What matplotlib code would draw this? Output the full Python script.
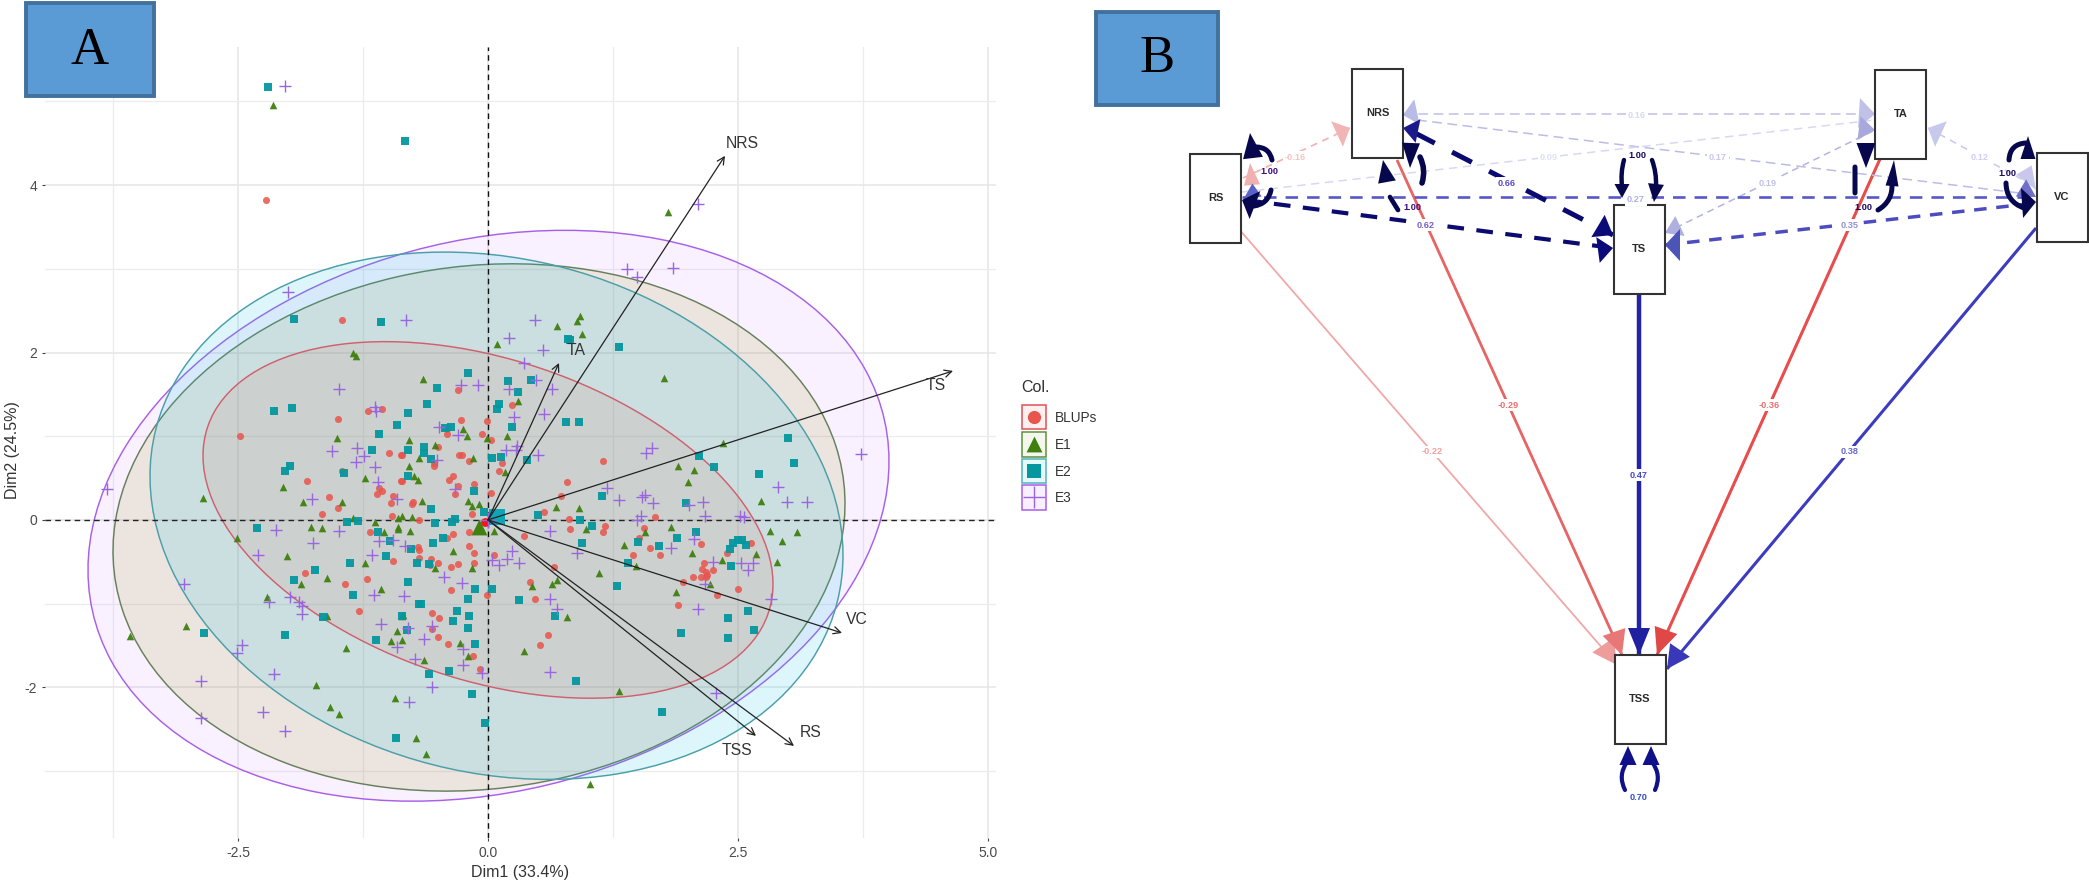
import numpy as np
import matplotlib
matplotlib.use('Agg')
import matplotlib.pyplot as plt
from matplotlib.patches import Ellipse, Rectangle, FancyArrowPatch

plt.rcParams['font.family'] = ['Liberation Sans', 'DejaVu Sans']
plt.rcParams['lines.scale_dashes'] = False

W, H = 2089, 883

# Panel A: individuals
blups_xy = [(-.30,1.55),(.24,1.37),(-.27,1.19),(-.01,1.18),(-.41,1.09),(-.41,1.03),(-.06,1.03),(.03,.95),(-.50,.87),
    (-.86,.78),(-.29,.78),(-.26,.78),(-.19,.70),(-.54,.68),(-.54,.64),(.14,.68),(.11,.59),(1.15,.70),(-.35,.53),(-.39,.48),
    (-.86,.46),(-.14,.43),(-.30,.41),(.79,.45),(-.33,.31),(.03,.32),(.73,.28),(-.75,.22),(-.76,.19),(-.16,.07),(.56,.10),
    (-.69,0),(.81,.01),(1.67,.03),(-.35,-.17),(-.41,-.21),(-.19,-.14),(.82,-.11),(1.17,-.07),(1.15,-.15),(.36,-.19),
    (1.56,-.10),(1.51,-.21),(2.13,-.29),(1.62,-.34),(1.45,-.42),(1.72,-.42),(-.70,-.32),(-.69,-.36),(-.19,-.31),(-.14,-.39),
    (.06,-.42),(-.69,-.46),(-.57,-.47),(-.14,-.52),(-.50,-.51),(-.58,-.54),(-.37,-.56),(-.30,-.53),(.66,-.56),(2.16,-.52),
    (2.14,-.59),(2.25,-.60),(2.18,-.62),(2.05,-.68),(2.13,-.68),(2.18,-.68),(2.19,-.66),(1.95,-.74),(.42,-.74),(2.50,-.82),
    (-.37,-.84),(-.01,-.90),(2.29,-.90),(.47,-.95),(1.90,-1.02),(-.56,-1.11),(-.49,-1.17),(-.56,-1.30),(-.50,-1.40),(.60,-1.38),
    (-.40,-1.48),(.52,-1.49),(-.15,-1.63),(2.63,-.27),(2.39,-.40),(-2.48,1.0),(-1.50,1.21),(-1.20,1.30),(-1.06,1.32),(-.99,.80),
    (-.87,.78),(-1.46,.59),(-1.81,.46),(-.87,.46),(-1.09,.38),(-1.06,.35),(-1.11,.31),(-.95,.29),(-.97,.20),(-1.59,.27),
    (-1.50,.14),(-1.66,.07),(-.96,.05),(-1.18,-.15),(-.95,-.49),(-1.83,-.64),(-1.43,-.77),(-1.21,-.70),(-1.29,-1.09),
    (-1.46,2.39),(-.08,-1.78),(-2.22,3.82)]

e1_xy = [(-.65,1.68),(.09,2.10),(1.76,1.70),(.30,1.42),(-.25,1.09),(-.21,1.00),(-.79,.96),(-.53,.89),(.19,1.00),(-.01,.98),
    (-.69,.74),(-.15,.74),(-.79,.64),(.17,.57),(-.74,.52),(-.70,.48),(2.35,.92),(1.90,.64),(2.06,.60),(2.00,.45),(-.66,.23),
    (-.20,.23),(-.16,.17),(-.09,.19),(.68,.15),(.91,.14),(-.86,.05),(-.76,.03),(-.78,-.13),(.06,-.13),(.98,-.11),(1.83,-.09),
    (1.57,-.15),(1.36,-.30),(-.35,-.37),(2.04,-.39),(2.68,-.41),(2.34,-.48),(1.48,-.55),(-.53,-.57),(-.16,-.58),(1.11,-.64),
    (.69,-.72),(.64,-.76),(.44,-.79),(2.22,-.77),(1.88,-.86),(.79,-1.16),(-.86,-1.15),(-.86,-1.44),(-.28,-1.47),(-.20,-1.62),
    (.36,-1.56),(1.80,3.68),(.92,2.44),(.89,2.38),(.69,2.32),(.94,2.22),(-2.15,4.96),(-1.35,1.99),(-1.32,1.96),(-1.51,.98),
    (-1.23,.50),(-2.05,.39),(-1.85,.22),(-1.46,.21),(-2.85,.26),(-1.35,.02),(-1.13,-.02),(-.90,.02),(-1.77,-.09),(-1.66,-.10),
    (-1.04,-.14),(-.90,-.08),(-.90,-.11),(-2.51,-.22),(-2.01,-.43),(-1.23,-.51),(-1.61,-.69),(-1.87,-.76),(-1.07,-.82),
    (-2.21,-.92),(-1.61,-1.15),(-.85,-1.13),(-.91,-1.33),(-.97,-1.45),(-1.42,-1.53),(-3.02,-1.27),(-3.58,-1.39),(-1.72,-1.97),
    (-1.58,-2.23),(-1.49,-2.32),(-.93,-2.13),(-.72,-2.61),(-.62,-2.80),(-.64,-1.67),(1.31,-2.04),(1.02,-3.16),(2.73,.23),
    (2.82,-.13),(3.09,-.14),(2.94,-.25),(2.89,-.50)]

e2_xy = [(-.20,1.76),(-.51,1.58),(.20,1.66),(.43,1.67),(.30,1.53),(-.61,1.38),(.11,1.38),(.09,1.33),(-.80,1.28),(.24,1.11),
    (.78,1.17),(.91,1.17),(-.43,1.10),(-.37,1.11),(-.64,.87),(-.64,.80),(-.80,.84),(-.57,.73),(.04,.74),(.13,.75),(.39,.71),
    (2.11,.76),(2.26,.63),(-.80,.53),(-.14,.35),(1.14,.29),(1.98,.20),(-.57,.13),(.50,.06),(-.04,.09),(-.33,.01),(-.36,-.03),
    (-.53,-.04),(.92,0),(1.04,-.07),(2.08,-.14),(-.45,-.21),(-.55,-.27),(.94,-.27),(1.89,-.21),(-.77,-.35),(1.50,-.26),
    (1.71,-.31),(2.45,-.28),(2.50,-.24),(2.54,-.24),(2.58,-.30),(2.42,-.35),(2.43,-.55),(-.71,-.52),(-.59,-.53),(1.40,-.51),
    (-.80,-.74),(1.29,-.79),(-.13,-.82),(.04,-.82),(-.20,-.95),(.31,-.96),(-.67,-1.01),(-.31,-1.09),(-.19,-1.15),(.67,-1.15),
    (-.35,-1.21),(-.20,-1.29),(-.81,-1.31),(2.40,-1.17),(2.60,-1.09),(2.66,-1.31),(1.93,-1.35),(2.40,-1.41),(-.13,-1.48),
    (-.83,4.53),(.80,2.16),(.82,2.15),(1.31,2.07),(-2.20,5.17),(-1.94,2.40),(-1.07,2.36),(-2.14,1.30),(-1.96,1.34),(-.91,1.13),
    (-1.09,1.03),(-1.16,.84),(-1.98,.64),(-2.03,.59),(-1.44,.56),(-1.41,-.03),(-1.30,-.01),(-2.31,-.10),(-1.10,-.14),(-.98,-.25),
    (-1.02,-.43),(-1.38,-.51),(-1.73,-.60),(-1.94,-.72),(-1.35,-.90),(-.69,-1.01),(-1.65,-1.16),(-.86,-1.15),(-1.12,-1.43),
    (-2.84,-1.35),(-2.03,-1.37),(-.92,-2.61),(-.59,-1.84),(-.39,-1.80),(-.16,-2.08),(-.03,-2.43),(.88,-1.92),(1.74,-2.29),
    (3.00,.98),(3.06,.68),(2.71,.55)]

e3_xy = [(-.27,1.61),(-.10,1.61),(.21,1.57),(.48,1.67),(.64,1.57),(.36,1.88),(.26,1.23),(.56,1.27),(.55,2.03),(-.49,1.11),
    (-.30,1.01),(.29,.88),(.18,.84),(.28,.84),(.50,.78),(-.51,.72),(1.64,.86),(1.58,.80),(1.19,.38),(-.33,.37),(1.57,.30),
    (1.54,.27),(1.31,.24),(1.65,.20),(2.01,.18),(2.15,.21),(2.17,.05),(1.53,.05),(1.49,0),(2.52,.05),(2.56,.03),(.62,-.13),
    (2.06,-.23),(1.83,-.34),(.89,-.39),(-.83,-.31),(.24,-.37),(.19,-.47),(.04,-.48),(.11,-.54),(.31,-.51),(2.25,-.50),(2.53,-.52),
    (2.65,-.52),(2.60,-.60),(-.44,-.68),(-.26,-.75),(2.17,-.76),(-.84,-.91),(.62,-.95),(.69,-1.07),(2.10,-1.07),(-.56,-1.27),
    (-.80,-1.29),(-.64,-1.42),(-.25,-1.54),(-.73,-1.66),(2.10,3.78),(1.39,3.0),(1.49,2.90),(1.85,3.01),(.47,2.39),(.21,2.17),
    (-.82,2.39),(-2.03,5.18),(-2.00,2.72),(-1.49,1.56),(-1.13,1.35),(-1.12,1.30),(-1.56,.82),(-1.31,.86),(-1.24,.76),(-1.32,.69),
    (-1.13,.63),(-1.10,.45),(-1.76,.25),(-.91,.25),(-3.81,.37),(-2.12,-.12),(-1.49,-.13),(-1.75,-.28),(-1.09,-.25),(-.95,-.24),
    (-2.30,-.42),(-1.16,-.42),(-3.04,-.77),(-1.14,-.90),(-1.98,-.92),(-2.19,-.98),(-1.89,-.98),(-1.86,-1.03),(-1.86,-1.12),
    (-1.07,-1.24),(-2.46,-1.49),(-2.51,-1.59),(-.91,-1.52),(-2.87,-1.93),(-2.87,-2.37),(-2.14,-1.84),(-2.25,-2.29),(-2.03,-2.52),
    (-.79,-2.17),(-.56,-2.00),(.62,-1.82),(-.06,-1.83),(-.25,-1.73),(2.28,-2.07),(3.73,.79),(2.90,.39),(2.99,.21),(3.19,.22),
    (2.83,-.95)]

groups = ['BLUPs', 'E1', 'E2', 'E3']
group_means = [(-.03, -.02), (-.09, -.09), (.09, .03), (.0, .0)]

# ellipse centre x, centre y, half range x, half range y, correlation
ell_e3 = (.005, .05, 4.005, 3.41, .19)
ell_e1 = (-.09, -.09, 3.66, 3.15, .09)
ell_e2 = (.085, .05, 3.465, 3.15, -.15)
ell_blups = (0, 0, 2.85, 2.13, -.36)

# variable arrows
var_names = ['NRS', 'TA', 'TS', 'VC', 'RS', 'TSS']
var_x = [2.37, .71, 4.65, 3.54, 3.06, 2.68]
var_y = [4.35, 1.875, 1.78, -1.35, -2.70, -2.58]
var_lab_x = [2.54, .88, 4.48, 3.69, 3.23, 2.49]
var_lab_y = [4.50, 2.02, 1.60, -1.19, -2.54, -2.76]

# Panel B: path coefficients
node_names = ['RS', 'NRS', 'TA', 'TS', 'VC', 'TSS']
edge_labels = ['-0.22', '-0.29', '-0.36', '0.38', '0.47', '-0.16', '0.16', '0.17', '0.09',
               '0.19', '0.27', '0.35', '0.12', '0.62', '0.66']
loop_labels = ['1.00', '1.00', '1.00', '1.00', '1.00', '0.70']

col_red, col_green, col_teal, col_purple = '#e8554c', '#3f8010', '#05979f', '#9a66e0'


def ellipse_patch(par, face, alpha, edge):
    cx, cy, sx, sy, r = par
    cov = np.array([[sx**2, r*sx*sy], [r*sx*sy, sy**2]])
    vals, vecs = np.linalg.eigh(cov)
    ang = np.degrees(np.arctan2(vecs[1, 1], vecs[0, 1]))
    fc = matplotlib.colors.to_rgba(face, alpha)
    return Ellipse((cx, cy), 2*np.sqrt(vals[1]), 2*np.sqrt(vals[0]), angle=ang, facecolor=fc, edgecolor=edge, lw=1.05)


fig = plt.figure(figsize=(W/100, H/100), dpi=100)

# ---- panel A ----
ax = fig.add_axes([45/W, 1-838/H, 951/W, 791/H])
ax.set_xlim(-4.43, 5.08)
ax.set_ylim(-3.80, 5.65)
for s in ax.spines.values():
    s.set_visible(False)
ax.set_xticks([-2.5, 0, 2.5, 5])
ax.set_xticklabels(['-2.5', '0.0', '2.5', '5.0'])
ax.set_yticks([-2, 0, 2, 4])
ax.set_yticklabels(['-2', '0', '2', '4'])
ax.set_xticks([-3.75, -1.25, 1.25, 3.75], minor=True)
ax.set_yticks([-3, -1, 1, 3, 5], minor=True)
ax.grid(True, which='major', color='#e6e6e6', lw=1.1)
ax.grid(True, which='minor', color='#ececec', lw=.9)
ax.set_axisbelow(True)
ax.tick_params(which='minor', length=0)
ax.tick_params(which='major', length=2.5, width=.8, color='#444444', labelcolor='#4a4a4a', labelsize=10, pad=3)
ax.set_xlabel('Dim1 (33.4%)', fontsize=11.5, color='#333333')
ax.xaxis.set_label_coords(.5, -.034)
ax.set_ylabel('Dim2 (24.5%)', fontsize=11.5, color='#333333')
ax.yaxis.set_label_coords(-.026, .49)

ax.add_patch(ellipse_patch(ell_e3, '#c77cff', .1, '#a860e8'))
ax.add_patch(ellipse_patch(ell_e1, '#958e09', .13, '#66805a'))
ax.add_patch(ellipse_patch(ell_e2, '#17c4e6', .15, '#4a9fa8'))
ax.add_patch(ellipse_patch(ell_blups, '#d46b5a', .12, '#d0606e'))

ax.axhline(0, color='#222222', lw=1, ls=(0, (4, 3)), zorder=2.5)
ax.axvline(0, color='#111111', lw=1, ls=(0, (4, 3)), zorder=2.5)

bx, by = np.array(blups_xy).T
e1x, e1y = np.array(e1_xy).T
e2x, e2y = np.array(e2_xy).T
e3x, e3y = np.array(e3_xy).T
ax.scatter(bx, by, s=26, c=col_red, marker='o', linewidths=0, alpha=.85, zorder=3)
ax.scatter(e1x, e1y, s=30, c=col_green, marker='^', linewidths=0, alpha=.95, zorder=3)
ax.scatter(e2x, e2y, s=26, c=col_teal, marker='s', linewidths=0, alpha=.95, zorder=3)
ax.scatter(e3x, e3y, s=75, c=col_purple, marker='+', linewidths=1, zorder=3)

ax.scatter([group_means[1][0]], [group_means[1][1]], s=130, c=col_green, marker='^', linewidths=0, zorder=3.2)
ax.scatter([group_means[2][0]], [group_means[2][1]], s=130, c='#10a5b5', marker='s', linewidths=0, zorder=3.1)
ax.scatter([group_means[0][0]], [group_means[0][1]], s=40, c='#f01818', marker='o', linewidths=0, zorder=3.3)
ax.scatter([group_means[3][0]], [group_means[3][1]], s=120, c=col_purple, marker='+', linewidths=1, zorder=3.3)

for name, vx, vy, lx, ly in zip(var_names, var_x, var_y, var_lab_x, var_lab_y):
    ax.annotate('', xy=(vx, vy), xytext=(0, 0),
                arrowprops=dict(arrowstyle='->', lw=.9, color='#222222', shrinkA=0, shrinkB=0, mutation_scale=13), zorder=4)
    ax.text(lx, ly, name, fontsize=11.3, color='#333333', ha='center', va='center', zorder=4)

# ---- overlay in pixels: labels, legend, panel B ----
ov = fig.add_axes([0, 0, 1, 1], zorder=5)
ov.set_xlim(0, W)
ov.set_ylim(H, 0)
ov.axis('off')
ov.patch.set_alpha(0)

# A / B tags
for (x0, y0, x1, y1), tag in zip([(26, 3, 154, 96), (1096, 12, 1218, 105)], ['A', 'B']):
    ov.add_patch(Rectangle((x0, y0), x1-x0, y1-y0, fc='#5b9bd5', ec='#41719c', lw=2.8))
    ov.text((x0+x1)/2, (y0+y1)/2+1, tag, fontsize=38, family='Liberation Serif', ha='center', va='center', color='black')

# legend
ov.text(1021, 387, 'Col.', fontsize=11.5, color='#333333', ha='left', va='center')
key_y = [416.5, 444, 470.5, 497]
key_edge = ['#e0505a', '#5f9040', '#4fb5bd', '#a860e8']
key_face = ['#fdf0ee', '#f4f7ec', '#e6f8f9', '#f8f0fe']
key_mark = [('o', col_red, 90, 0), ('^', col_green, 130, 0), ('s', col_teal, 110, 0), ('+', col_purple, 250, 1)]
for g, yy, ec, fc, (m, c, s, lw) in zip(groups, key_y, key_edge, key_face, key_mark):
    ov.add_patch(Rectangle((1022, yy-12), 24, 24.5, fc=fc, ec=ec, lw=1.1))
    ov.scatter([1034], [yy], marker=m, c=c, s=s, linewidths=lw)
    ov.text(1055, yy+1, g, fontsize=9.8, color='#333333', ha='left', va='center')


def head(tip, back, width, color, z=3):
    tip, back = np.array(tip, float), np.array(back, float)
    d = tip-back
    n = np.array([-d[1], d[0]])/np.hypot(*d)
    pts = np.array([tip, back+n*width/2, back-n*width/2])
    ov.fill(pts[:, 0], pts[:, 1], color=color, lw=0, zorder=z)


def line(p0, p1, color, lw, dash=None, z=2):
    ls = '-' if dash is None else (0, dash)
    ov.plot([p0[0], p1[0]], [p0[1], p1[1]], color=color, lw=lw, ls=ls, zorder=z, solid_capstyle='butt', dash_capstyle='butt')


def arc(p0, p1, rad, color='#07074e', lw=3.6):
    ov.add_patch(FancyArrowPatch(p0, p1, connectionstyle='arc3,rad=%g' % rad, arrowstyle='-', mutation_scale=1,
                                 color=color, lw=lw, shrinkA=0, shrinkB=0, zorder=5, capstyle='round'))


# solid paths into TSS
line((1238, 228), (1617, 665), '#f0a8a8', 1.3)
line((1397, 160), (1622, 655), '#e86464', 2)
line((1880, 159), (1657, 655), '#e84c4c', 2.2)
line((2036, 228), (1667, 669), '#3c3cc0', 2.2)
line((1639, 294), (1639, 655), '#2222aa', 3.2)

# dashed correlations
line((1243, 178), (1350, 128), '#f2b5b5', 1.3, (5, 4))
line((1403, 114), (1875, 114), '#c8c8ec', 1.3, (7, 4))
line((1417, 120), (2036, 195), '#bcbce8', 1.1, (7, 4))
line((1242, 192), (1875, 120), '#d8d8f2', 1.1, (6, 4))
line((1665, 233), (1875, 130), '#b4b4e2', 1.1, (5, 3.5))
line((1242, 197), (2036, 197), '#5858c8', 1.9, (9, 6.5))
line((1665, 245), (2036, 203), '#4c4cc0', 2.5, (9, 7))
line((1928, 128), (2036, 187), '#c8c8ec', 1.1, (5, 4))
line((1245, 200), (1613, 248), '#0a0a70', 3, (12, 9))
line((1415, 133), (1613, 235), '#0a0a70', 3.6, (16, 14))

# arrow heads
head((1403, 115), (1417, 112), 26, '#b8bce6')
head((1403, 128), (1418, 131), 24, '#1a1a8c')
head((1350, 128), (1337, 134), 28, '#f2b5b5')
head((1250, 163), (1252, 185), 16, '#f0b0b0')
head((1243, 200), (1257, 190), 16, '#5a62c8')
head((1875, 114), (1859, 113), 30, '#c0c0e8')
head((1875, 130), (1859, 128), 24, '#a8a8dc')
head((1665, 233), (1680, 226), 22, '#b0b0e0')
head((1665, 245), (1680, 245), 32, '#4c54b8')
head((1613, 235), (1598, 226), 26, '#0a0a78')
head((1613, 248), (1598, 250), 26, '#0a0a78')
head((2036, 190), (2024, 170), 18, '#c8c8ec')
head((2036, 197), (2021, 188), 20, '#7070c8')
head((1928, 128), (1941, 134), 28, '#c8c8ec')
head((1617, 665), (1603, 645), 26, '#ee9c9c')
head((1622, 655), (1614, 632), 24, '#e87878')
head((1639, 655), (1639, 628), 22, '#2020a0')
head((1657, 655), (1666, 630), 24, '#e04848')
head((1667, 669), (1680, 650), 24, '#3838b8')

# variable boxes
node_x = [1215.5, 1377.5, 1900.5, 1639, 2062, 1640]
node_y = [198, 113.5, 114, 249, 197.5, 699.5]
for name, nx, ny in zip(node_names, node_x, node_y):
    ov.add_patch(Rectangle((nx-25.5, ny-44.5), 51, 89, fc='white', ec='#333333', lw=1.5, zorder=4))
    ov.text(nx, ny, name, fontsize=8, fontweight='bold', color='#2a2a2a', ha='center', va='center', zorder=6)

# self loops: bodies then heads
loop_dark = '#07074e'
arc((1272, 160), (1256, 147), .4)
head((1250, 133), (1253, 158), 20, loop_dark, z=5)
arc((1271, 190), (1254, 206), -.35)
head((1242, 200), (1255, 205), 30, loop_dark, z=5)
arc((1390, 197), (1398, 210), 0, lw=3.4)
head((1383, 160), (1387, 182), 18, loop_dark, z=5)
arc((1420, 157), (1422, 183), -.2, lw=4)
head((1410, 168), (1411, 143), 18, loop_dark, z=5)
arc((1624, 160), (1622, 186), .1, lw=3.2)
head((1622, 198), (1622, 184), 15, loop_dark, z=5)
arc((1652, 160), (1656, 186), -.1, lw=3.2)
head((1654, 202), (1656, 184), 16, loop_dark, z=5)
arc((1855, 193), (1855, 167), 0, lw=3.6)
head((1866, 168), (1866, 143), 19, loop_dark, z=5)
arc((1878, 210), (1892, 184), .3, lw=3.6)
head((1894, 160), (1892, 186), 13, loop_dark, z=5)
arc((2009, 160), (2026, 143), -.45, lw=3.6)
head((2028, 136), (2028, 159), 15, loop_dark, z=5)
arc((2006, 183), (2024, 208), .35, lw=3.6)
head((2036, 202), (2022, 203), 30, loop_dark, z=5)
arc((1625, 790), (1627, 762), -.3, color='#101088', lw=3)
head((1628, 746), (1628, 765), 17, '#101088', z=5)
arc((1655, 790), (1652, 762), .3, color='#101088', lw=3)
head((1651, 746), (1651, 765), 17, '#101088', z=5)

# coefficient labels
edge_lab_x = [1432, 1508, 1769, 1850, 1639, 1295, 1637, 1718, 1549, 1768, 1636, 1850, 1980, 1426, 1507]
edge_lab_y = [452, 405, 405, 452, 475, 157, 116, 157, 157, 183, 200, 225, 157, 225, 183]
edge_lab_col = ['#f0a0a0', '#e87070', '#e87070', '#6868d0', '#4848c8', '#f4c4c4', '#d8d8f2', '#c8c8ec', '#e0e0f6',
                '#c0c0e8', '#b0b0e4', '#9090d8', '#d0d0f0', '#7a60c8', '#5a4ac0']
for t, lx, ly, c in zip(edge_labels, edge_lab_x, edge_lab_y, edge_lab_col):
    ov.text(lx, ly, t, fontsize=6.6, fontweight='bold', color=c, ha='center', va='center', zorder=6,
            bbox=dict(fc='white', ec='none', pad=1.2))

loop_lab_x = [1269, 1412, 1637, 1863, 2007, 1639]
loop_lab_y = [172, 208, 155, 207, 174, 797]
loop_lab_col = ['#3a0a80', '#3a0a80', '#1a0a60', '#1a0a60', '#1a0a60', '#3050c0']
for t, lx, ly, c in zip(loop_labels, loop_lab_x, loop_lab_y, loop_lab_col):
    ov.text(lx, ly, t, fontsize=6.6, fontweight='bold', color=c, ha='center', va='center', zorder=6)

fig.savefig('out.png', dpi=100)
